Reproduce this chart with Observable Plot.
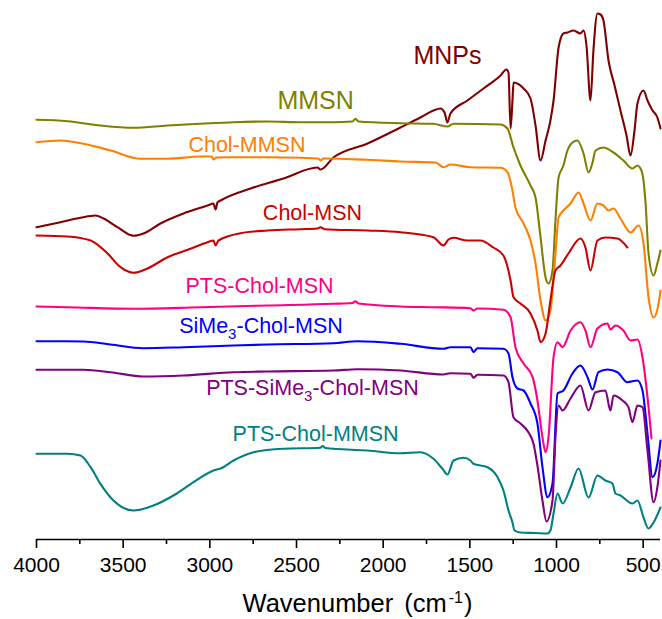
<!DOCTYPE html>
<html>
<head>
<meta charset="utf-8">
<script src="https://cdn.jsdelivr.net/npm/d3@7"></script>
<script src="https://cdn.jsdelivr.net/npm/@observablehq/plot@0.6"></script>
<style>
  body { margin: 0; background: #fff; }
  #chart svg { display: block; }
</style>
</head>
<body>
<div id="chart"></div>
<script>
// FTIR spectra: wavenumber (cm-1) against stacked, offset transmittance (a.u.)
// Each spectrum is a list of [wavenumber, transmittance] pairs.

const mnps = [
  [4000,312.3],[3862,317.3],[3746,321.7],[3660,324],[3613,321],[3533,312.3],[3440,303.7],
  [3383,306],[3285,316],[3152,326],[3013,334],[2979,336],[2967,330],[2956,337],[2938,339],
  [2765,351],[2575,361],[2379,372],[2362,370],[2287,382],[2090,396],[1900,412],[1785,422],
  [1710,429],[1669,431],[1646,427],[1629,417],[1612,426],[1514,439],[1421,451],[1323,464],
  [1289,470],[1277,467],[1265,411],[1254,439],[1248,457],[1190,451],[1150,441],[1121,414],
  [1092,379],[1063,399],[1035,419],[1017,439],[988,492],[960,506],[937,507],[902,509],
  [862,506],[844,509],[827,494],[804,439],[787,489],[764,526],[746,525],[729,519],[700,479],
  [665,454],[631,429],[596,404],[573,384],[550,409],[533,436],[498,449],[475,439],[446,429],
  [418,422],[400,411]
];

const mmsn = [
  [4000,419.7],[3821,418.3],[3631,414],[3440,411.7],[3244,414],[3054,415.7],[2863,417.3],
  [2667,418],[2477,417.3],[2287,417.3],[2177,418],[2160,420.7],[2142,418],[1900,416.3],
  [1710,415.7],[1629,413],[1594,415.7],[1323,415],[1283,411],[1248,392],[1208,374],
  [1150,354],[1121,342],[1092,302],[1063,262],[1046,256],[1023,269],[1006,319],[988,362],
  [960,374],[937,389],[908,397],[879,399],[844,386],[815,367],[792,377],[775,389],[729,392],
  [671,387],[614,379],[562,371],[533,374],[515,371],[498,359],[486,336],[469,286],[440,264],
  [418,276],[400,289]
];

const cholMmsn = [
  [4000,397.3],[3862,399],[3729,395.7],[3573,389],[3400,380.7],[3244,380.7],[3054,383],
  [2990,383],[2979,380],[2962,382],[2863,382.3],[2667,382.3],[2477,381.7],[2373,381],
  [2362,379],[2344,381],[2090,379.7],[1900,378],[1698,377],[1652,372.3],[1612,375],
  [1496,372.3],[1323,371.7],[1283,367.3],[1254,349],[1237,332],[1190,316],[1150,299],
  [1121,276],[1092,239],[1063,219],[1035,229],[1006,286],[988,322],[960,329],[919,336],
  [873,347],[844,336],[804,319],[764,336],[729,334],[700,329],[671,331],[631,321],[573,307],
  [527,314],[498,296],[469,242],[440,222],[411,236],[400,249]
];

const cholMsn = [
  [4000,304],[3821,303],[3688,299],[3590,286],[3515,272.3],[3440,266.7],[3360,271],
  [3244,282.3],[3112,290.7],[3013,297.3],[2979,299],[2967,294],[2950,299],[2823,306.3],
  [2667,309],[2477,310.3],[2379,311],[2362,312.3],[2339,310.3],[2090,309],[1900,307.3],
  [1710,302.3],[1652,294],[1623,300],[1594,301.7],[1514,299],[1439,299],[1364,292],
  [1306,284],[1265,259],[1248,242.3],[1208,236],[1150,226],[1110,209],[1092,197.3],
  [1063,206],[1035,239],[1006,269],[977,274],[931,286],[862,301],[833,292],[804,269],
  [764,299],[718,302],[648,301],[591,292]
];

const ptsCholMsn = [
  [4000,233],[3821,232.3],[3440,230.7],[3054,232.3],[2667,234],[2287,235.7],[2177,236.5],
  [2160,238.3],[2142,236],[1900,233],[1710,232.3],[1496,231.3],[1479,229],[1456,231],
  [1306,229.7],[1265,222.3],[1237,192.3],[1190,176],[1138,162.3],[1110,139],[1081,102.3],
  [1063,87.3],[1046,102.3],[1017,182.3],[994,197.3],[965,192.3],[919,209],[862,217.3],
  [833,209],[804,192.3],[764,211],[706,216],[689,210],[660,214],[614,209],[573,199],
  [533,200],[504,182.3],[475,142.3],[452,101]
];

const sime3CholMsn = [
  [4000,198.3],[3729,198],[3573,195],[3383,191.3],[3152,192.3],[2863,194],[2667,195],
  [2287,196.3],[2148,198.3],[1900,195.7],[1652,190.7],[1612,192.3],[1496,192.3],[1479,187.3],
  [1456,191.3],[1306,190.7],[1277,186],[1254,162.3],[1225,151],[1190,149],[1150,136],
  [1110,116],[1081,72.3],[1052,42.3],[1023,56],[994,146],[960,149],[908,166],[862,174],
  [821,162.3],[792,150],[758,167.3],[706,170],[648,167.3],[591,157.3],[533,159],[504,149],
  [475,106],[446,62.3],[418,76],[400,99]
];

const ptsSime3CholMsn = [
  [4000,169.7],[3729,169.7],[3573,167.3],[3383,163],[3152,164],[2863,167.3],[2667,168],
  [2287,169],[2148,170.3],[1900,169],[1652,165],[1612,166.3],[1496,165.7],[1479,161.7],
  [1456,164.7],[1306,164],[1277,157.3],[1248,122],[1208,116],[1162,107.3],[1133,96],
  [1110,74],[1081,39],[1058,18],[1023,39],[1006,102.3],[988,134],[965,129],[919,141],
  [862,154],[815,129],[775,147.3],[718,149],[689,129],[671,144],[619,139],[585,132.3],
  [562,117.3],[533,134],[504,132.3],[475,89],[440,37.3],[418,52.3],[400,79]
];

const ptsCholMmsn = [
  [4000,85.7],[3821,85.7],[3746,84],[3688,72.3],[3631,55.7],[3556,39],[3440,29],[3325,34],
  [3210,44],[3094,57.3],[2979,69],[2938,71],[2863,79],[2748,87.3],[2575,90.7],[2362,91.7],
  [2350,93.5],[2333,91.5],[2090,89],[1900,86.3],[1785,87.3],[1710,80.7],[1658,70.7],
  [1629,65],[1594,79],[1537,81.7],[1496,79],[1479,75.7],[1398,72.3],[1340,62.3],[1306,49],
  [1277,29],[1254,17],[1242,9],[1208,7],[1121,6.5],[1052,6],[1035,9],[1017,26],[994,46],
  [965,36],[919,52],[873,71],[815,42],[764,64],[718,59],[677,56],[660,46],[631,44],[562,36],
  [533,39],[498,22],[469,11],[440,17],[400,32]
];

const seriesNames = [
  "MNPs", "MMSN", "Chol-MMSN", "Chol-MSN",
  "PTS-Chol-MSN", "SiMe3-Chol-MSN", "PTS-SiMe3-Chol-MSN", "PTS-Chol-MMSN"
];
const spectra = [mnps, mmsn, cholMmsn, cholMsn, ptsCholMsn, sime3CholMsn, ptsSime3CholMsn, ptsCholMmsn];

// Where each sample name sits, in data coordinates [wavenumber, transmittance]
const labelAt = [
  [1629, 484], [2390, 438.7], [2786, 394.7], [2408, 326.6],
  [2713, 253.2], [2705, 213], [2408, 151], [2390, 105.2]
];

const xTicks = [4000, 3500, 3000, 2500, 2000, 1500, 1000, 500];
const xMinorTicks = [3750, 3250, 2750, 2250, 1750, 1250, 750];

const palette = ["#800000", "#808000", "#ff8000", "#cc0000", "#ff0080", "#0000ff", "#800080", "#008080"];

const rows = spectra.flatMap((pts, i) => pts.map(([w, t]) => ({series: seriesNames[i], w, t})));
const labelRows = labelAt.map(([w, t], i) => ({series: seriesNames[i], w, t}));
const bigLabels = labelRows.filter(d => d.series === "MNPs" || d.series === "MMSN");
const smallLabels = labelRows.filter(d => !(d.series === "MNPs" || d.series === "MMSN"));

const chart = Plot.plot({
  width: 662,
  height: 619,
  marginLeft: 36,
  marginRight: 2,
  marginTop: 0,
  marginBottom: 80,
  style: {fontFamily: "'Liberation Sans', Arial, sans-serif", color: "black", background: "white"},
  x: {domain: [4000, 400]},
  y: {domain: [0, 539], axis: null},
  color: {domain: seriesNames, range: palette},
  marks: [
    Plot.ruleY([0], {stroke: "black", strokeWidth: 1.6}),
    Plot.axisX({ticks: xTicks, tickSize: 9, tickPadding: 9, fontSize: 21, label: null, strokeWidth: 1.6, tickFormat: d => String(d)}),
    Plot.axisX({ticks: xMinorTicks, tickSize: 5, label: null, strokeWidth: 1.6, tickFormat: () => ""}),
    Plot.line(rows, {x: "w", y: "t", z: "series", stroke: "series", strokeWidth: 2.1, curve: "monotone-x"}),
    Plot.text(bigLabels, {x: "w", y: "t", text: "series", fill: "series", fontSize: 25, textAnchor: "middle", lineAnchor: "middle"}),
    Plot.text(smallLabels, {x: "w", y: "t", text: "series", fill: "series", fontSize: 21.5, textAnchor: "middle", lineAnchor: "middle"})
  ]
});

const svg = d3.select(chart);

// Subscript the 3 in SiMe3
svg.selectAll("text").each(function () {
  const s = this.textContent;
  if (!s.includes("SiMe3")) return;
  const [before, after] = s.split("SiMe3");
  const el = d3.select(this);
  el.text(null);
  el.append("tspan").text(before + "SiMe");
  el.append("tspan").attr("dy", 6).attr("font-size", 15).text("3");
  el.append("tspan").attr("dy", -6).text(after);
});

// Axis title with superscript
const title = svg.append("text")
  .attr("x", 357.5)
  .attr("y", 612)
  .attr("text-anchor", "middle")
  .attr("font-size", 25.5)
  .attr("fill", "black");
title.append("tspan").text("Wavenumber");
title.append("tspan").attr("dx", 11).text("(cm");
title.append("tspan").attr("dx", 2).attr("dy", -9).attr("font-size", 16).text("-1");
title.append("tspan").attr("dx", 1).attr("dy", 9).text(")");

document.getElementById("chart").append(chart);
</script>
</body>
</html>
